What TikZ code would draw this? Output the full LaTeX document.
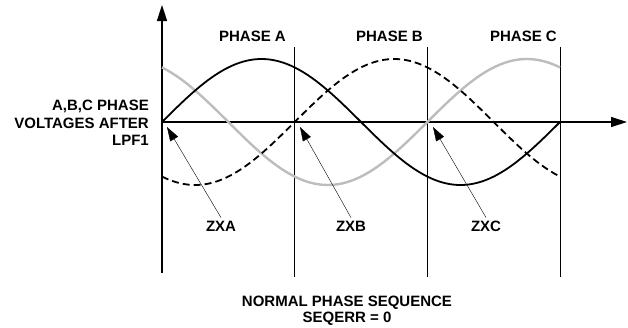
\documentclass[tikz,border=0pt]{standalone}
\usepackage{fontspec}
\setmainfont{Liberation Sans}
\usetikzlibrary{arrows.meta}
\definecolor{Wave}{HTML}{BDBDBD}

\begin{document}
\begin{tikzpicture}[x=1pt,y=-1pt,>={Triangle[length=16pt,width=10pt]},
    lbl/.style={font=\bfseries\fontsize{15}{17.5}\selectfont,inner sep=2pt},
    zx/.style={->,>={Triangle[length=14pt,width=9pt]},thin}]
    \useasboundingbox (0,0) rectangle (628,327);
    % axes
    \coordinate (org) at (162,122);
    \draw[->,line width=1.6pt] (162,273) -- (162,5);
    \draw[->,line width=1.3pt] (org) -- (627,122);
    % phase borders
    \foreach \xv/\nm in {294/A,427/B,560/C}
      \draw[line width=0.8pt] (\xv,47) coordinate (top\nm) -- (\xv,277) coordinate (bot\nm);
    % waves
    \draw[Wave,line width=2.4pt,smooth,samples=80,domain=0:360] plot ({162+\x*1.10556},{122-63*sin(\x+120)});
    \draw[line width=1.8pt,dash pattern=on 7pt off 4pt,smooth,samples=80,domain=0:360] plot ({162+\x*1.10556},{122-63*sin(\x-120)});
    \draw[line width=1.8pt,smooth,samples=80,domain=0:360] plot ({162+\x*1.10556},{122-63*sin(\x)});
    % labels
    \node[lbl,anchor=south east] (phaseA) at (288,44) {PHASE A};
    \node[lbl,anchor=south east] (phaseB) at (425,44) {PHASE B};
    \node[lbl,anchor=south east] (phaseC) at (559,44) {PHASE C};
    \node[lbl,align=right,anchor=east] (volt) at (151,123) {A,B,C PHASE\\VOLTAGES AFTER\\LPF1};
    \node[lbl,inner sep=3pt] (zxa) at (221,226) {ZXA};
    \node[lbl,inner sep=3pt] (zxb) at (351,226) {ZXB};
    \node[lbl,inner sep=3pt] (zxc) at (486,226) {ZXC};
    \node[lbl,inner sep=0pt,align=center,font=\bfseries\fontsize{15}{16}\selectfont] (seq) at (347,311) {NORMAL PHASE SEQUENCE\\SEQERR = 0};
    % zero crossings
    \coordinate (tipa) at (167,127);
    \coordinate (tipb) at (300,127);
    \coordinate (tipc) at (433,127);
    \draw[zx] (zxa.north) -- (tipa);
    \draw[zx] (zxb.north) -- (tipb);
    \draw[zx] (zxc.north) -- (tipc);
\end{tikzpicture}
\end{document}
